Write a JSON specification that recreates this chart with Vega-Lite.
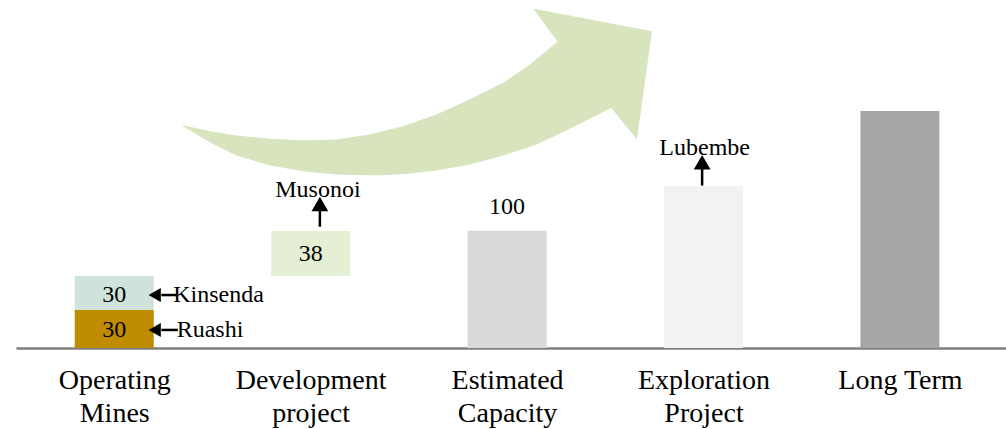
{
  "$schema": "https://vega.github.io/schema/vega-lite/v6.json",
  "width": 990,
  "height": 348,
  "autosize": {"type": "none"},
  "padding": {"left": 16, "top": 0, "right": 0, "bottom": 81},
  "background": "white",
  "config": {"view": {"stroke": null}, "font": "Liberation Serif"},
  "datasets": {
    "bars": [
      {"category": "Operating Mines", "pos": 0.5, "segment": "Ruashi", "start": 0, "end": 32.4},
      {"category": "Operating Mines", "pos": 0.5, "segment": "Kinsenda", "start": 32.4, "end": 61.4},
      {"category": "Development project", "pos": 1.5, "segment": "Musonoi", "start": 61.4, "end": 99.9},
      {"category": "Estimated Capacity", "pos": 2.5, "segment": "Estimated", "start": 0, "end": 100},
      {"category": "Exploration Project", "pos": 3.5, "segment": "Exploration", "start": 0, "end": 138.3},
      {"category": "Long Term", "pos": 4.5, "segment": "Long Term", "start": 0, "end": 202.3}
    ],
    "arrowShape": [
      {"i": 1, "x": 0.852, "y": 189.5}, {"i": 2, "x": 0.987, "y": 184.6}, {"i": 3, "x": 1.123, "y": 180.9},
      {"i": 4, "x": 1.293, "y": 178.1}, {"i": 5, "x": 1.462, "y": 176.7}, {"i": 6, "x": 1.632, "y": 177.5},
      {"i": 7, "x": 1.802, "y": 181.8}, {"i": 8, "x": 1.971, "y": 188.9}, {"i": 9, "x": 2.141, "y": 198.9},
      {"i": 10, "x": 2.31, "y": 211.7}, {"i": 11, "x": 2.48, "y": 225.9}, {"i": 12, "x": 2.616, "y": 241.5},
      {"i": 13, "x": 2.76, "y": 261.4}, {"i": 14, "x": 2.638, "y": 289.0}, {"i": 15, "x": 3.235, "y": 270.0},
      {"i": 16, "x": 3.159, "y": 178.9}, {"i": 17, "x": 3.031, "y": 205.4}, {"i": 18, "x": 2.819, "y": 187.5},
      {"i": 19, "x": 2.65, "y": 174.1}, {"i": 20, "x": 2.48, "y": 164.7}, {"i": 21, "x": 2.31, "y": 157.0},
      {"i": 22, "x": 2.141, "y": 151.9}, {"i": 23, "x": 1.971, "y": 148.8}, {"i": 24, "x": 1.835, "y": 147.7},
      {"i": 25, "x": 1.632, "y": 148.5}, {"i": 26, "x": 1.462, "y": 151.3}, {"i": 27, "x": 1.293, "y": 156.2},
      {"i": 28, "x": 1.123, "y": 164.7}, {"i": 29, "x": 0.987, "y": 176.1}, {"i": 30, "x": 0.852, "y": 189.5}
    ],
    "centerLabels": [
      {"text": "30", "x": 0.5, "y": 15.4},
      {"text": "30", "x": 0.5, "y": 45.2},
      {"text": "38", "x": 1.5, "y": 80.2},
      {"text": "100", "x": 2.5, "y": 120.3},
      {"text": "Musonoi", "x": 1.537, "y": 134.8},
      {"text": "Lubembe", "x": 3.506, "y": 170.7}
    ],
    "sideLabels": [
      {"text": "Kinsenda", "x": 0.8, "y": 45.2},
      {"text": "Ruashi", "x": 0.818, "y": 15.4}
    ],
    "shafts": [
      {"name": "Kinsenda", "x": 0.74, "x2": 0.824, "y": 45.2, "y2": 45.2},
      {"name": "Ruashi", "x": 0.74, "x2": 0.824, "y": 15.4, "y2": 15.4},
      {"name": "Musonoi", "x": 1.547, "x2": 1.547, "y": 103.5, "y2": 119.5},
      {"name": "Lubembe", "x": 3.493, "x2": 3.493, "y": 138.6, "y2": 155.0}
    ],
    "heads": [
      {"name": "Kinsenda", "x": 0.706, "y": 45.2, "dir": "left"},
      {"name": "Ruashi", "x": 0.706, "y": 15.4, "dir": "left"},
      {"name": "Musonoi", "x": 1.547, "y": 122.9, "dir": "up"},
      {"name": "Lubembe", "x": 3.493, "y": 158.5, "dir": "up"}
    ]
  },
  "encoding": {
    "x": {
      "type": "quantitative",
      "scale": {"domain": [0, 5.04], "nice": false, "zero": false, "padding": 0},
      "axis": {
        "title": null,
        "values": [0.5, 1.5, 2.5, 3.5, 4.5],
        "labelExpr": "datum.value == 0.5 ? ['Operating', 'Mines'] : datum.value == 1.5 ? ['Development', 'project'] : datum.value == 2.5 ? ['Estimated', 'Capacity'] : datum.value == 3.5 ? ['Exploration', 'Project'] : ['Long Term']",
        "grid": false,
        "ticks": false,
        "domainColor": "#7f7f7f",
        "domainWidth": 2.5,
        "labelFont": "Liberation Serif",
        "labelFontSize": 28,
        "labelColor": "black",
        "labelBaseline": "top",
        "labelPadding": 18,
        "labelLineHeight": 33,
        "labelFlush": false,
        "labelOverlap": false
      }
    },
    "y": {
      "type": "quantitative",
      "scale": {"domain": [0, 297], "nice": false},
      "axis": null
    }
  },
  "layer": [
    {
      "data": {"name": "arrowShape"},
      "mark": {"type": "line", "fill": "#d7e4bd", "stroke": "#d7e4bd", "strokeWidth": 1, "interpolate": "linear"},
      "encoding": {
        "x": {"field": "x", "type": "quantitative"},
        "y": {"field": "y", "type": "quantitative"},
        "order": {"field": "i", "type": "quantitative"}
      }
    },
    {
      "data": {"name": "bars"},
      "mark": {"type": "bar", "width": 79},
      "encoding": {
        "x": {"field": "pos", "type": "quantitative"},
        "y": {"field": "start", "type": "quantitative"},
        "y2": {"field": "end"},
        "color": {
          "field": "segment",
          "type": "nominal",
          "legend": null,
          "scale": {
            "domain": ["Ruashi", "Kinsenda", "Musonoi", "Estimated", "Exploration", "Long Term"],
            "range": ["#bf8c00", "#d0e3da", "#e4efd3", "#d9d9d9", "#f2f2f2", "#a6a6a6"]
          }
        }
      }
    },
    {
      "data": {"name": "shafts"},
      "mark": {"type": "rule", "color": "black", "strokeWidth": 2.5},
      "encoding": {
        "x": {"field": "x", "type": "quantitative"},
        "x2": {"field": "x2"},
        "y": {"field": "y", "type": "quantitative"},
        "y2": {"field": "y2"}
      }
    },
    {
      "data": {"name": "heads"},
      "transform": [{"filter": "datum.dir == 'left'"}],
      "mark": {"type": "point", "filled": true, "color": "black", "opacity": 1, "size": 200, "shape": "triangle-left"},
      "encoding": {
        "x": {"field": "x", "type": "quantitative"},
        "y": {"field": "y", "type": "quantitative"}
      }
    },
    {
      "data": {"name": "heads"},
      "transform": [{"filter": "datum.dir == 'up'"}],
      "mark": {"type": "point", "filled": true, "color": "black", "opacity": 1, "size": 280, "shape": "triangle-up"},
      "encoding": {
        "x": {"field": "x", "type": "quantitative"},
        "y": {"field": "y", "type": "quantitative"}
      }
    },
    {
      "data": {"name": "centerLabels"},
      "mark": {"type": "text", "font": "Liberation Serif", "fontSize": 24, "color": "black", "baseline": "middle", "align": "center"},
      "encoding": {
        "x": {"field": "x", "type": "quantitative"},
        "y": {"field": "y", "type": "quantitative"},
        "text": {"field": "text"}
      }
    },
    {
      "data": {"name": "sideLabels"},
      "mark": {"type": "text", "font": "Liberation Serif", "fontSize": 24, "color": "black", "baseline": "middle", "align": "left"},
      "encoding": {
        "x": {"field": "x", "type": "quantitative"},
        "y": {"field": "y", "type": "quantitative"},
        "text": {"field": "text"}
      }
    }
  ]
}
